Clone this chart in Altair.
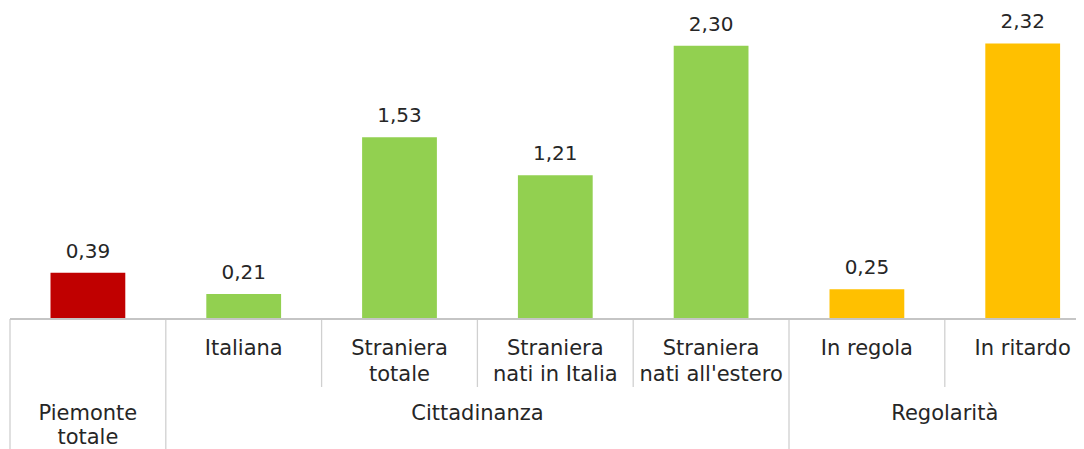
import altair as alt
import pandas as pd

# ---- data ----
categories = ["Piemonte totale", "Italiana", "Straniera totale", "Straniera nati in Italia",
              "Straniera nati all'estero", "In regola", "In ritardo"]
sub_labels = ["", "Italiana", "Straniera\ntotale", "Straniera\nnati in Italia",
              "Straniera\nnati all'estero", "In regola", "In ritardo"]
values = [0.39, 0.21, 1.53, 1.21, 2.30, 0.25, 2.32]
bar_colors = ["#C00000", "#92D050", "#92D050", "#92D050", "#92D050", "#FFC000", "#FFC000"]
groups = ["Piemonte\ntotale", "Cittadinanza", "Regolarità"]
group_sizes = [1, 4, 2]

FONT = "DejaVu Sans"
TXT = "#262626"
W, H = 1066, 311

def split2(s):
    parts = s.split("\n")
    return (parts + [""])[:2]

bars = pd.DataFrame({
    "cat": categories,
    "idx": list(range(len(categories))),
    "value": values,
    "label": [f"{v:.2f}".replace(".", ",") for v in values],
    "color": bar_colors,
    "l1": [split2(s)[0] for s in sub_labels],
    "l2": [split2(s)[1] for s in sub_labels],
})

starts = [0]
for s in group_sizes[:-1]:
    starts.append(starts[-1] + s)
grp = pd.DataFrame({
    "name": groups,
    "start": starts,
    "size": group_sizes,
    "l1": [split2(s)[0] for s in groups],
    "l2": [split2(s)[1] for s in groups],
})

bounds = pd.DataFrame({
    "b": list(range(len(categories))),
    "full": [i in starts for i in range(len(categories))],
})

xs = alt.Scale(domain=[0, W / 155.8], nice=False, zero=False)
ys = alt.Scale(domain=[0, H / 118.8], nice=False)

base = alt.Chart(bars).transform_calculate(
    x0="datum.idx + 0.26", x1="datum.idx + 0.74", xc="datum.idx + 0.5"
)

bar_layer = base.mark_bar().encode(
    x=alt.X("x0:Q", scale=xs, axis=None),
    x2="x1:Q",
    y=alt.Y("value:Q", scale=ys, axis=None),
    y2=alt.datum(0),
    color=alt.Color("color:N", scale=None),
)

val_text = base.mark_text(dy=-15, baseline="alphabetic", fontSize=20, font=FONT, color=TXT).encode(
    x=alt.X("xc:Q", scale=xs), y=alt.Y("value:Q", scale=ys), text="label:N"
)

LF = 21
sub1 = base.mark_text(baseline="alphabetic", fontSize=LF, font=FONT, color=TXT).encode(
    x=alt.X("xc:Q", scale=xs), y=alt.value(347), text="l1:N"
)
sub2 = base.mark_text(baseline="alphabetic", fontSize=LF, font=FONT, color=TXT).encode(
    x=alt.X("xc:Q", scale=xs), y=alt.value(373), text="l2:N"
)

gbase = alt.Chart(grp).transform_calculate(gc="datum.start + datum.size / 2")
g1 = gbase.mark_text(baseline="alphabetic", fontSize=LF, font=FONT, color=TXT).encode(
    x=alt.X("gc:Q", scale=xs), y=alt.value(412), text="l1:N"
)
g2 = gbase.mark_text(baseline="alphabetic", fontSize=LF, font=FONT, color=TXT).encode(
    x=alt.X("gc:Q", scale=xs), y=alt.value(436), text="l2:N"
)

short_rules = alt.Chart(bounds).transform_filter("!datum.full").mark_rule(
    color="#d0d0d0", strokeWidth=1.3
).encode(x=alt.X("b:Q", scale=xs), y=alt.value(H), y2=alt.value(H + 68))

full_rules = alt.Chart(bounds).transform_filter("datum.full").mark_rule(
    color="#d0d0d0", strokeWidth=1.3
).encode(x=alt.X("b:Q", scale=xs), y=alt.value(H), y2=alt.value(H + 130))

axis_line = alt.Chart(bars).mark_rule(color="#c4c4c4", strokeWidth=1.3).encode(
    x=alt.value(0), x2=alt.value(W), y=alt.value(H)
)

chart = alt.layer(
    bar_layer, short_rules, full_rules, axis_line, val_text, sub1, sub2, g1, g2
).properties(
    width=W, height=H,
    autosize=alt.AutoSizeParams(type="none"),
    padding={"left": 2, "top": 0, "right": 0, "bottom": 130},
).configure(background="white", view=alt.ViewConfig(stroke=None))

chart.save("out.html", embed_options={"renderer": "svg", "actions": False})
